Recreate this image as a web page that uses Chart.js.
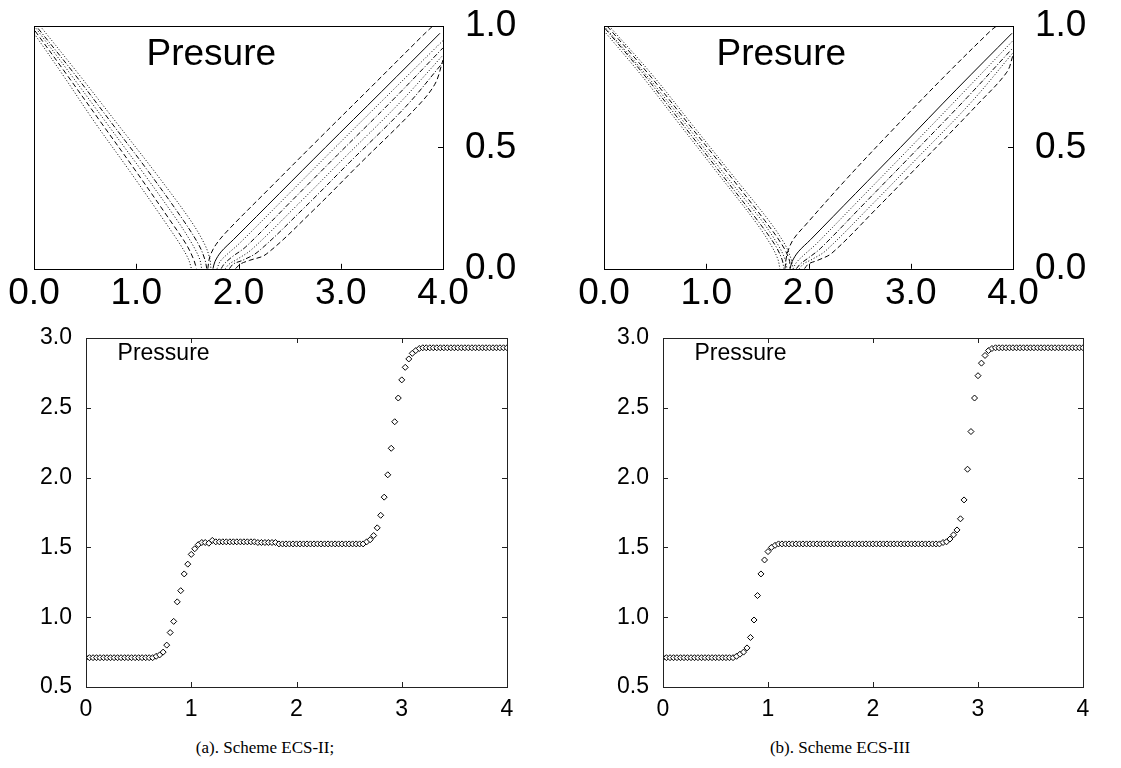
<!DOCTYPE html>
<html>
<head>
<meta charset="utf-8">
<script src="https://cdn.jsdelivr.net/npm/chart.js@4.4.1/dist/chart.umd.min.js"></script>
<style>
  body { margin: 0; background: #fff; width: 1121px; height: 768px; position: relative; overflow: hidden; }
  canvas { position: absolute; }
  .caption { position: absolute; top: 738px; font-family: "Liberation Serif", "DejaVu Serif", serif; font-size: 17px; color: #000; text-align: center; width: 400px; }
</style>
</head>
<body>
<canvas id="ecs2Contour" width="560" height="333" style="left:0;top:-20px"></canvas>
<canvas id="ecs3Contour" width="561" height="333" style="left:560px;top:-20px"></canvas>
<canvas id="ecs2Line" width="560" height="410" style="left:0;top:310px"></canvas>
<canvas id="ecs3Line" width="561" height="410" style="left:560px;top:310px"></canvas>
<div class="caption" style="left:65px">(a). Scheme ECS-II;</div>
<div class="caption" style="left:640px">(b). Scheme ECS-III</div>
<script>
// mesh points along x (spacing 1/30)
const xGrid = [
  0, 0.033, 0.067, 0.1, 0.133, 0.167, 0.2, 0.233, 0.267, 0.3, 0.333, 0.367, 0.4, 0.433, 0.467, 0.5, 0.533, 0.567, 0.6, 0.633, 0.667, 0.7, 0.733, 0.767, 0.8, 0.833, 0.867, 0.9, 0.933, 0.967,
  1, 1.033, 1.067, 1.1, 1.133, 1.167, 1.2, 1.233, 1.267, 1.3, 1.333, 1.367, 1.4, 1.433, 1.467, 1.5, 1.533, 1.567, 1.6, 1.633, 1.667, 1.7, 1.733, 1.767, 1.8, 1.833, 1.867, 1.9, 1.933, 1.967,
  2, 2.033, 2.067, 2.1, 2.133, 2.167, 2.2, 2.233, 2.267, 2.3, 2.333, 2.367, 2.4, 2.433, 2.467, 2.5, 2.533, 2.567, 2.6, 2.633, 2.667, 2.7, 2.733, 2.767, 2.8, 2.833, 2.867, 2.9, 2.933, 2.967,
  3, 3.033, 3.067, 3.1, 3.133, 3.167, 3.2, 3.233, 3.267, 3.3, 3.333, 3.367, 3.4, 3.433, 3.467, 3.5, 3.533, 3.567, 3.6, 3.633, 3.667, 3.7, 3.733, 3.767, 3.8, 3.833, 3.867, 3.9, 3.933, 3.967,
  4
];

// pressure, scheme ECS-II
const ecs2Pressure = [
  0.71, 0.71, 0.71, 0.71, 0.71, 0.71, 0.71, 0.71, 0.71, 0.71, 0.71, 0.71, 0.71, 0.71, 0.71, 0.71, 0.71, 0.71, 0.71, 0.71,
  0.72, 0.73, 0.75, 0.80, 0.89, 0.97, 1.11, 1.19, 1.31, 1.38,
  1.45, 1.49, 1.52, 1.535, 1.535, 1.53, 1.55, 1.54, 1.54, 1.54, 1.54, 1.54, 1.54, 1.54, 1.54, 1.54, 1.54, 1.54, 1.54,
  1.535, 1.535, 1.535, 1.535, 1.535, 1.535,
  1.525, 1.525, 1.525, 1.525, 1.525, 1.525, 1.525, 1.525, 1.525, 1.525, 1.525, 1.525, 1.525, 1.525, 1.525, 1.525, 1.525, 1.525, 1.525, 1.525, 1.525, 1.525, 1.525, 1.525, 1.525,
  1.54, 1.555, 1.585, 1.64, 1.73, 1.86, 2.02, 2.21, 2.40, 2.57,
  2.70, 2.79, 2.85, 2.89, 2.91, 2.925,
  2.93, 2.93, 2.93, 2.93, 2.93, 2.93, 2.93, 2.93, 2.93, 2.93, 2.93, 2.93, 2.93, 2.93, 2.93, 2.93, 2.93, 2.93, 2.93, 2.93, 2.93, 2.93, 2.93, 2.93, 2.93
];

// pressure, scheme ECS-III
const ecs3Pressure = [
  0.71, 0.71, 0.71, 0.71, 0.71, 0.71, 0.71, 0.71, 0.71, 0.71, 0.71, 0.71, 0.71, 0.71, 0.71, 0.71, 0.71, 0.71, 0.71, 0.71, 0.71,
  0.72, 0.735, 0.75, 0.78, 0.855, 0.98, 1.155, 1.31, 1.41, 1.47, 1.50, 1.515,
  1.525, 1.525, 1.525, 1.525, 1.525, 1.525, 1.525, 1.525, 1.525, 1.525, 1.525, 1.525, 1.525, 1.525, 1.525, 1.525,
  1.525, 1.525, 1.525, 1.525, 1.525, 1.525, 1.525, 1.525, 1.525, 1.525, 1.525, 1.525, 1.525, 1.525, 1.525, 1.525,
  1.525, 1.525, 1.525, 1.525, 1.525, 1.525, 1.525, 1.525, 1.525, 1.525, 1.525, 1.525, 1.525, 1.525, 1.525,
  1.535, 1.54, 1.56, 1.59, 1.625, 1.705, 1.84, 2.06, 2.33, 2.57, 2.73, 2.82, 2.875, 2.91, 2.925,
  2.93, 2.93, 2.93, 2.93, 2.93, 2.93, 2.93, 2.93, 2.93, 2.93, 2.93, 2.93, 2.93, 2.93, 2.93, 2.93, 2.93, 2.93, 2.93, 2.93, 2.93, 2.93, 2.93, 2.93, 2.93, 2.93
];

// contour lines [x, t] of the left-running wave, ECS-II
const ecs2LeftWave = [
  [[0.00, 0.97], [0.28, 0.80], [0.60, 0.60], [0.94, 0.40], [1.27, 0.20], [1.43, 0.10], [1.51, 0.04], [1.54, 0.00]],
  [[0.01, 0.98], [0.32, 0.80], [0.66, 0.60], [1.00, 0.40], [1.33, 0.20], [1.49, 0.10], [1.56, 0.04], [1.59, 0.00]],
  [[0.02, 0.99], [0.36, 0.80], [0.71, 0.60], [1.06, 0.40], [1.40, 0.20], [1.55, 0.10], [1.62, 0.04], [1.64, 0.00]],
  [[0.04, 0.99], [0.40, 0.80], [0.76, 0.60], [1.12, 0.40], [1.46, 0.20], [1.61, 0.10], [1.67, 0.04], [1.69, 0.00]],
  [[0.06, 1.00], [0.44, 0.80], [0.81, 0.60], [1.18, 0.40], [1.53, 0.20], [1.67, 0.10], [1.72, 0.04], [1.73, 0.00]]
];
const ecs2LeftStyles = ['dot', 'dash', 'dot', 'dashDot', 'dot'];

// contour lines of the right-running wave, ECS-II
const ecs2RightWave = [
  [[1.70, 0.00], [1.72, 0.05], [1.78, 0.10], [1.90, 0.16], [2.30, 0.33], [2.75, 0.52], [3.30, 0.75], [3.80, 0.96], [3.90, 1.00]],
  [[1.75, 0.00], [1.77, 0.03], [1.83, 0.07], [1.95, 0.12], [2.40, 0.31], [2.85, 0.50], [3.40, 0.73], [3.97, 0.97]],
  [[1.79, 0.00], [1.82, 0.03], [1.89, 0.06], [2.01, 0.105], [2.46, 0.295], [2.91, 0.485], [3.46, 0.715], [4.00, 0.94]],
  [[1.83, 0.00], [1.86, 0.02], [1.94, 0.05], [2.07, 0.09], [2.52, 0.28], [2.97, 0.47], [3.52, 0.70], [4.00, 0.91]],
  [[1.87, 0.00], [1.91, 0.02], [1.99, 0.04], [2.13, 0.08], [2.58, 0.265], [3.03, 0.455], [3.58, 0.685], [4.00, 0.88]],
  [[1.91, 0.00], [1.95, 0.02], [2.04, 0.035], [2.19, 0.07], [2.64, 0.25], [3.09, 0.44], [3.64, 0.67], [4.00, 0.85]],
  [[1.97, 0.00], [2.02, 0.02], [2.11, 0.035], [2.27, 0.06], [2.73, 0.24], [3.18, 0.43], [3.73, 0.66], [3.92, 0.76], [4.00, 0.86]]
];
const ecs2RightStyles = ['dash', 'solid', 'dot', 'dashDot', 'dot', 'dashDot', 'dash'];

// contour lines of the left-running wave, ECS-III
const ecs3LeftWave = [
  [[0.00, 0.98], [0.36, 0.80], [0.73, 0.60], [1.10, 0.40], [1.47, 0.20], [1.63, 0.10], [1.70, 0.04], [1.72, 0.00]],
  [[0.01, 0.99], [0.39, 0.80], [0.76, 0.60], [1.13, 0.40], [1.50, 0.20], [1.67, 0.10], [1.74, 0.04], [1.76, 0.00]],
  [[0.02, 0.99], [0.41, 0.80], [0.79, 0.60], [1.16, 0.40], [1.54, 0.20], [1.70, 0.10], [1.77, 0.04], [1.79, 0.00]],
  [[0.03, 1.00], [0.44, 0.80], [0.82, 0.60], [1.20, 0.40], [1.57, 0.20], [1.74, 0.10], [1.81, 0.04], [1.82, 0.00]],
  [[0.05, 1.00], [0.47, 0.80], [0.85, 0.60], [1.23, 0.40], [1.61, 0.20], [1.77, 0.10], [1.83, 0.04], [1.85, 0.00]]
];
const ecs3LeftStyles = ['dot', 'dashDot', 'dot', 'dash', 'dot'];

// contour lines of the right-running wave, ECS-III
const ecs3RightWave = [
  [[1.77, 0.00], [1.79, 0.06], [1.85, 0.12], [1.97, 0.18], [2.35, 0.36], [2.75, 0.54], [3.30, 0.78], [3.78, 0.98], [3.84, 1.00]],
  [[1.82, 0.00], [1.84, 0.03], [1.90, 0.07], [2.02, 0.12], [2.46, 0.31], [2.90, 0.50], [3.45, 0.74], [3.99, 0.97]],
  [[1.85, 0.00], [1.88, 0.025], [1.95, 0.055], [2.07, 0.10], [2.51, 0.29], [2.95, 0.48], [3.50, 0.72], [4.00, 0.94]],
  [[1.88, 0.00], [1.92, 0.02], [2.00, 0.045], [2.12, 0.085], [2.56, 0.275], [3.00, 0.465], [3.55, 0.705], [4.00, 0.91]],
  [[1.91, 0.00], [1.95, 0.02], [2.04, 0.04], [2.17, 0.075], [2.61, 0.26], [3.05, 0.45], [3.60, 0.69], [4.00, 0.89]],
  [[1.96, 0.00], [2.00, 0.02], [2.09, 0.035], [2.23, 0.065], [2.67, 0.25], [3.11, 0.44], [3.66, 0.68], [3.94, 0.81], [4.00, 0.88]]
];
const ecs3RightStyles = ['dash', 'solid', 'dot', 'dashDot', 'dot', 'dash'];

const contourTicksX = [0, 1, 2, 3, 4];
const contourTicksY = [0, 0.5, 1];

const dashes = { solid: [], dash: [5, 3], dot: [1, 2], dashDot: [5, 2, 1, 2] };
const sans = '"Liberation Sans", Arial, sans-serif';

// frame, inward ticks and the in-plot label
const panelDecor = {
  id: 'panelDecor',
  afterDatasetsDraw(chart, args, opts) {
    const ctx = chart.ctx;
    const a = chart.chartArea;
    const xs = chart.scales.x, ys = chart.scales.y;
    const L = opts.tickLen;
    ctx.save();
    ctx.strokeStyle = opts.color;
    ctx.lineWidth = 1;
    ctx.strokeRect(Math.round(a.left) + 0.5, Math.round(a.top) + 0.5, Math.round(a.width), Math.round(a.height));
    ctx.beginPath();
    xs.ticks.forEach(t => {
      const px = Math.round(xs.getPixelForValue(t.value)) + 0.5;
      if (opts.sides.includes('b')) { ctx.moveTo(px, a.bottom); ctx.lineTo(px, a.bottom - L); }
      if (opts.sides.includes('t')) { ctx.moveTo(px, a.top); ctx.lineTo(px, a.top + L); }
    });
    ys.ticks.forEach(t => {
      const py = Math.round(ys.getPixelForValue(t.value)) + 0.5;
      if (opts.sides.includes('r')) { ctx.moveTo(a.right, py); ctx.lineTo(a.right - L, py); }
      if (opts.sides.includes('l')) { ctx.moveTo(a.left, py); ctx.lineTo(a.left + L, py); }
    });
    ctx.stroke();
    ctx.fillStyle = '#000';
    ctx.font = opts.font;
    ctx.textBaseline = 'alphabetic';
    ctx.fillText(opts.text, xs.getPixelForValue(opts.x), ys.getPixelForValue(opts.y));
    ctx.restore();
  }
};

function contourSets(lines, styles) {
  return lines.map((pts, i) => ({
    data: pts.map(p => ({ x: p[0], y: p[1] })),
    showLine: true,
    borderColor: '#000',
    borderWidth: 1,
    borderDash: dashes[styles[i]],
    pointRadius: 0,
    tension: 0.35
  }));
}

function contourChart(id, left, right, padLeft, axisW) {
  new Chart(document.getElementById(id), {
    type: 'scatter',
    data: { datasets: contourSets(left[0], left[1]).concat(contourSets(right[0], right[1])) },
    options: {
      responsive: false,
      animation: false,
      events: [],
      layout: { padding: { left: padLeft, top: 46, right: 0, bottom: 0 } },
      plugins: {
        legend: { display: false },
        tooltip: { enabled: false },
        panelDecor: { color: '#000', tickLen: 5, sides: 'br', font: '37px ' + sans, text: 'Presure', x: 1.1, y: 0.84 }
      },
      scales: {
        x: {
          type: 'linear', min: 0, max: 4, position: 'bottom',
          afterBuildTicks: s => { s.ticks = contourTicksX.map(v => ({ value: v })); },
          ticks: { callback: v => v.toFixed(1), font: { size: 37, family: sans }, color: '#000', padding: 3, autoSkip: false, maxRotation: 0 },
          grid: { display: false, drawTicks: false },
          border: { display: false },
          afterFit: s => { s.height = 38; }
        },
        y: {
          type: 'linear', min: 0, max: 1, position: 'right',
          afterBuildTicks: s => { s.ticks = contourTicksY.map(v => ({ value: v })); },
          ticks: { callback: v => v.toFixed(1), font: { size: 37, family: sans }, color: '#000', padding: 22, autoSkip: false },
          grid: { display: false, drawTicks: false },
          border: { display: false },
          afterFit: s => { s.width = axisW; }
        }
      }
    },
    plugins: [panelDecor]
  });
}

function pressureChart(id, values, axisW, padRight) {
  new Chart(document.getElementById(id), {
    type: 'scatter',
    data: {
      datasets: [{
        data: xGrid.map((x, i) => ({ x: x, y: values[i] })),
        pointStyle: 'rectRot',
        pointRadius: 3,
        borderColor: '#000',
        backgroundColor: '#fff',
        borderWidth: 1,
        showLine: false
      }]
    },
    options: {
      responsive: false,
      animation: false,
      events: [],
      layout: { padding: { left: 0, top: 28, right: padRight, bottom: 0 } },
      plugins: {
        legend: { display: false },
        tooltip: { enabled: false },
        panelDecor: { color: '#222', tickLen: 5, sides: 'btlr', font: '23px ' + sans, text: 'Pressure', x: 0.3, y: 2.84 }
      },
      scales: {
        x: {
          type: 'linear', min: 0, max: 4,
          ticks: { stepSize: 1, font: { size: 23, family: sans }, color: '#000', padding: 9, autoSkip: false, maxRotation: 0 },
          grid: { display: false, drawTicks: false },
          border: { display: false },
          afterFit: s => { s.height = 33; }
        },
        y: {
          type: 'linear', min: 0.5, max: 3,
          ticks: { stepSize: 0.5, callback: v => v.toFixed(1), font: { size: 23, family: sans }, color: '#000', padding: 14, autoSkip: false },
          grid: { display: false, drawTicks: false },
          border: { display: false },
          afterFit: s => { s.width = axisW; }
        }
      }
    },
    plugins: [panelDecor]
  });
}

contourChart('ecs2Contour', [ecs2LeftWave, ecs2LeftStyles], [ecs2RightWave, ecs2RightStyles], 34, 117);
contourChart('ecs3Contour', [ecs3LeftWave, ecs3LeftStyles], [ecs3RightWave, ecs3RightStyles], 44, 108);
pressureChart('ecs2Line', ecs2Pressure, 86, 53);
pressureChart('ecs3Line', ecs3Pressure, 103, 38);
</script>
</body>
</html>
